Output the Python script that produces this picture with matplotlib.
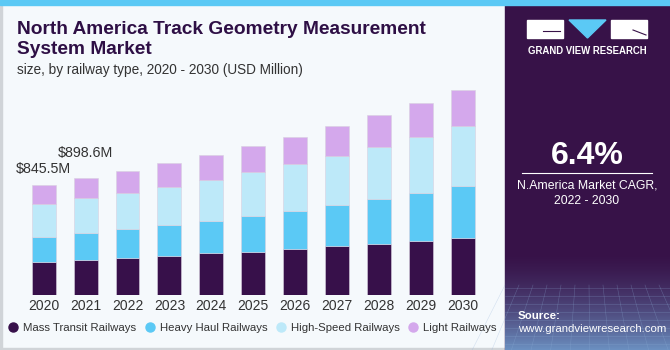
import matplotlib
matplotlib.use("Agg")
import matplotlib.pyplot as plt
import matplotlib.patches as mpatches
import numpy as np

# data (USD Million)
years = ['2020', '2021', '2022', '2023', '2024', '2025', '2026', '2027', '2028', '2029', '2030']
mass_transit = [254, 270, 283, 303, 323, 331, 354, 375, 393, 418, 439]
heavy_haul = [196, 208, 226, 236, 249, 280, 295, 318, 347, 370, 400]
high_speed = [248, 267, 275, 295, 316, 334, 357, 380, 403, 431, 462]
light = [147, 154, 167, 180, 187, 200, 213, 226, 244, 259, 275]
labels = {0: '$845.5M', 1: '$898.6M'}
label_offsets = {0: 11.5, 1: 18}

series_names = ['Mass Transit Railways', 'Heavy Haul Railways', 'High-Speed Railways', 'Light Railways']
colors = ['#37104a', '#5bc9f5', '#bde9f9', '#d4a8ec']
panel_color = '#371248'
title_color = '#2e0f45'

W, H = 670, 350
fig = plt.figure(figsize=(W / 100, H / 100), dpi=100)
fig.patch.set_facecolor('#f5f9fc')
plt.rcParams['font.family'] = ['Liberation Sans', 'DejaVu Sans']

# background overlay in pixel coords
bg = fig.add_axes([0, 0, 1, 1])
bg.set_xlim(0, W)
bg.set_ylim(H, 0)
bg.axis('off')
bg.add_patch(mpatches.Rectangle((0, 0), 2, H, color='#d0d4d8'))
bg.add_patch(mpatches.Rectangle((0, H - 2), 505, 2, color='#d0d4d8'))
bg.add_patch(mpatches.Rectangle((505, 0), W - 505, H, color=panel_color))
# gradient at bottom of panel
grad = np.linspace(0, 1, 100).reshape(-1, 1) ** 1.6
bg.imshow(grad, extent=(505, W, H, 250), cmap=matplotlib.colors.LinearSegmentedColormap.from_list(
    'g', [panel_color, '#6b8fc0']), aspect='auto', zorder=1)
for gx in np.arange(505, W, 14):
    bg.plot([gx, gx + (gx - 587) * 0.4], [285, H], color='#8fb0d8', lw=0.4, alpha=0.35, zorder=2)
for gy in np.arange(288, H, 8):
    bg.plot([505, W], [gy, gy], color='#8fb0d8', lw=0.4, alpha=0.35, zorder=2)
bg.add_patch(mpatches.Rectangle((0, 0), W, 5, color='#5bc9f5', zorder=3))

# logo
bg.add_patch(mpatches.Rectangle((527, 20), 36, 18, color='white', zorder=3))
bg.add_patch(mpatches.Polygon([(569, 20), (606, 20), (587.5, 38)], color='#5bc9f5', zorder=3))
bg.add_patch(mpatches.Rectangle((611, 20), 36, 18, color='white', zorder=3))
bg.plot([543, 560], [31, 31], color=panel_color, lw=0.8, zorder=4)
bg.plot([633, 646], [30, 35], color=panel_color, lw=0.8, zorder=4)
bg.text(587, 51, 'GRAND VIEW RESEARCH', color='white', fontsize=6.9, fontweight='bold',
        ha='center', va='center', zorder=4)

# CAGR text
bg.text(587, 156, '6.4%', color='white', fontsize=23, fontweight='bold', ha='center', va='center', zorder=4)
bg.plot([522, 652], [173, 173], color='white', lw=0.8, zorder=4)
bg.text(587, 186, 'N.America Market CAGR,', color='white', fontsize=8.8, ha='center', va='center', zorder=4)
bg.text(587, 201, '2022 - 2030', color='white', fontsize=8.8, ha='center', va='center', zorder=4)
bg.text(518, 316, 'Source:', color='white', fontsize=8.2, fontweight='bold', ha='left', va='center', zorder=4)
bg.text(518, 329, 'www.grandviewresearch.com', color='white', fontsize=8.2, ha='left', va='center', zorder=4)

# titles
bg.text(17, 29, 'North America Track Geometry Measurement', color=title_color, fontsize=13.8,
        fontweight='bold', ha='left', va='center')
bg.text(17, 50, 'System Market', color=title_color, fontsize=13.8, fontweight='bold', ha='left', va='center')
bg.text(17, 70, 'size, by railway type, 2020 - 2030 (USD Million)', color='#333333', fontsize=9.8,
        ha='left', va='center')

# chart
ax = fig.add_axes([22.75 / W, 55 / H, 460.9 / W, 220.8 / H])
ax.set_facecolor('none')
x = np.arange(len(years))
bottom = np.zeros(len(years))
for vals, c, name in zip([mass_transit, heavy_haul, high_speed, light], colors, series_names):
    ax.bar(x, vals, 0.57, bottom=bottom, color=c, label=name, edgecolor='#d8d0e0', linewidth=0.4)
    bottom += np.array(vals)
for i, t in labels.items():
    ax.annotate(t, (x[i], bottom[i]), xytext=(0, label_offsets[i]), textcoords='offset points',
                ha='center', va='center', fontsize=10.3, color='#333333')
ax.set_xlim(-0.5, 10.5)
ax.set_ylim(0, 1700)
ax.set_xticks(x)
ax.set_xticklabels(years, fontsize=10, color='#333333')
ax.tick_params(axis='x', length=0, pad=3)
ax.set_yticks([])
for s in ax.spines.values():
    s.set_visible(False)

handles = [plt.Line2D([], [], marker='o', ls='', color=c, markersize=6.5) for c in colors]
fig.legend(handles, series_names, loc='center', bbox_to_anchor=(252.5 / W, 1 - 328 / H), ncol=4,
           frameon=False, fontsize=8.2, handletextpad=0.5, columnspacing=0.75, labelcolor='#333333',
           handlelength=0.8)

fig.savefig('out.png', dpi=100, facecolor=fig.get_facecolor())
